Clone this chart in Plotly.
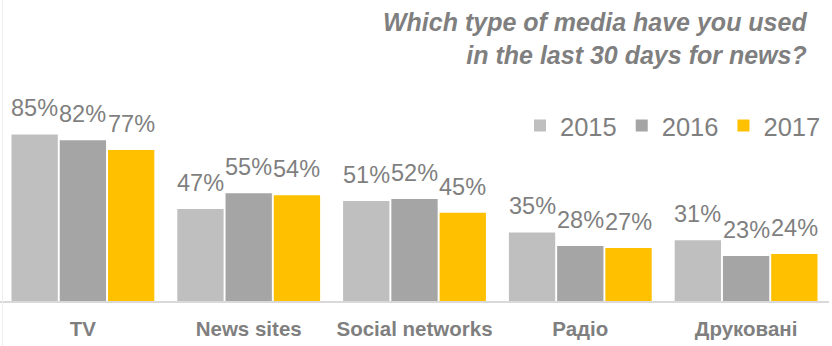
import plotly.graph_objects as go

categories = ["TV", "News sites", "Social networks", "Радіо", "Друковані"]
years = ["2015", "2016", "2017"]
v2015 = [85, 47, 51, 35, 31]
v2016 = [82, 55, 52, 28, 23]
v2017 = [77, 54, 45, 27, 24]
series = [v2015, v2016, v2017]
colors = ["#BFBFBF", "#A5A5A5", "#FFC000"]
title_text = "Which type of media have you used<br>in the last 30 days for news?"

GRAY = "#7f7f7f"
FONT = "Liberation Sans, Arial, sans-serif"
W, H = 832, 346
ML, MR, MT, MB = 0, 3, 105, 45
plot_w = W - ML - MR
cat_pitch = plot_w / len(categories)
bargap = 0.127
slot = cat_pitch * (1 - bargap) / len(series)

fig = go.Figure()
for name, vals, col in zip(years, series, colors):
    fig.add_trace(go.Bar(
        name=name, x=categories, y=vals,
        marker=dict(color=col, line=dict(width=0)),
        hoverinfo="skip",
    ))

annotations = []
for i, vals in enumerate(series):
    for cat, v in zip(categories, vals):
        annotations.append(dict(
            x=cat, y=v, xref="x", yref="y",
            text=f"{v}%", showarrow=False,
            xshift=(i - 1) * slot, yshift=11,
            xanchor="center", yanchor="bottom",
            font=dict(family=FONT, size=23.5, color=GRAY),
        ))

annotations.append(dict(
    x=(809 - ML) / plot_w, y=1.505, xref="paper", yref="paper",
    xanchor="right", yanchor="top", align="right", showarrow=False,
    text="<b><i>" + title_text.replace("<br>", "</i></b><br><b><i>") + "</i></b>",
    font=dict(family=FONT, size=25, color=GRAY),
))

fig.update_layout(
    width=W, height=H,
    margin=dict(l=ML, r=MR, t=MT, b=MB, pad=0),
    paper_bgcolor="white", plot_bgcolor="white",
    barmode="group", bargap=bargap, bargroupgap=0.04,
    showlegend=True,
    legend=dict(
        orientation="h", x=(826 - ML) / plot_w, xanchor="right",
        y=0.893, yanchor="middle",
        font=dict(family=FONT, size=25.5, color=GRAY),
        itemwidth=30, tracegroupgap=0, bgcolor="rgba(0,0,0,0)",
    ),
    xaxis=dict(
        showgrid=False, zeroline=False, showline=True,
        linecolor="#d9d9d9", linewidth=2,
        ticks="outside", ticklen=8, tickcolor="rgba(0,0,0,0)",
        tickfont=dict(family=FONT, size=20.5, color=GRAY),
        tickprefix="<b>", ticksuffix="</b>",
        fixedrange=True,
    ),
    yaxis=dict(
        range=[0, 100], showgrid=False, zeroline=False,
        showticklabels=False, showline=False, fixedrange=True,
    ),
    annotations=annotations,
    shapes=[dict(type="line", xref="paper", yref="paper",
                 x0=2.5 / plot_w, x1=2.5 / plot_w, y0=-0.3, y1=1.6,
                 line=dict(color="#eeeeee", width=1))],
)

fig.write_html("out.html", config={"displayModeBar": False})
